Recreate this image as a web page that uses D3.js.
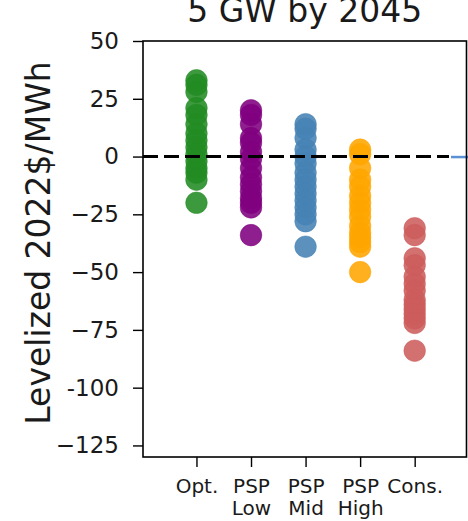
<!DOCTYPE html>
<html>
<head>
<meta charset="utf-8">
<script src="https://cdn.jsdelivr.net/npm/d3@7"></script>
<style>
  html, body { margin: 0; padding: 0; background: #fff; }
  svg { display: block; font-family: "DejaVu Sans", sans-serif; }
</style>
</head>
<body>
<svg id="chart" width="468" height="521"></svg>
<script>
// categories (two-line tick labels)
const categories = ["Opt.", "PSP Low", "PSP Mid", "PSP High", "Cons."];
const catLines = [["Opt."], ["PSP", "Low"], ["PSP", "Mid"], ["PSP", "High"], ["Cons."]];
const catColors = ["#228B22", "#800080", "#4682B4", "#FFA500", "#CD5C5C"];

// values per scenario, $/MWh
const optVals = [33, 31, 28, 21, 18, 14, 10, 7, 4, 1, -2, -5, -7, -10, -20];
const pspLowVals = [20, 18, 14, 8, 6, 2, -1, -5, -9, -12, -15, -18, -20, -22, -34];
const pspMidVals = [14, 12, 8, 3, 0, -3, -7, -10, -13, -16, -19, -22, -25, -28, -39];
const pspHighVals = [3, 1, -5, -10, -13, -17, -20, -23, -26, -30, -33, -35, -37, -39, -50];
const consVals = [-31, -34, -44, -47, -52, -55, -58, -62, -64, -66, -68, -70, -72, -84];
const seriesVals = [optVals, pspLowVals, pspMidVals, pspHighVals, consVals];

const yTicks = [50, 25, 0, -25, -50, -75, -100, -125];
const yTickLabels = ["50", "25", "0", "\u221225", "\u221250", "\u221275", "-100", "\u2212125"];

const svg = d3.select("#chart");
const plotL = 143, plotR = 466.5, plotT = 41, plotB = 457;

const x = d3.scaleLinear().domain([-0.98, 4.95]).range([plotL, plotR]);
const y = d3.scaleLinear().domain([50, -130]).range([plotT, plotB]);

// title (its top is cut off by the page edge, as in the source)
svg.append("text")
  .attr("x", (plotL + plotR) / 2).attr("y", 22)
  .attr("text-anchor", "middle")
  .attr("font-size", 33).attr("fill", "#1a1a1a")
  .text("5 GW by 2045");

// points
const pts = [];
seriesVals.forEach((vals, i) => vals.forEach(v => pts.push({ i, v })));
svg.append("g").selectAll("circle")
  .data(pts).join("circle")
  .attr("cx", d => x(d.i))
  .attr("cy", d => y(d.v))
  .attr("r", 10.8)
  .attr("fill", d => catColors[d.i])
  .attr("fill-opacity", 0.88)
  .attr("stroke", d => catColors[d.i])
  .attr("stroke-opacity", 0.5)
  .attr("stroke-width", 1);

// zero reference line
svg.append("line")
  .attr("x1", plotL).attr("x2", 449)
  .attr("y1", y(0)).attr("y2", y(0))
  .attr("stroke", "#000").attr("stroke-width", 3)
  .attr("stroke-dasharray", "15,6");

// clipped blue segment at right edge
svg.append("line")
  .attr("x1", 451).attr("x2", 468)
  .attr("y1", y(0) + 0.5).attr("y2", y(0) + 0.5)
  .attr("stroke", "#5b8fd6").attr("stroke-width", 2.5);

// y axis
const yAxis = d3.axisLeft(y)
  .tickValues(yTicks)
  .tickFormat((d, k) => yTickLabels[k])
  .tickSize(10).tickPadding(14);
const gy = svg.append("g").attr("transform", `translate(${plotL},0)`).call(yAxis);
gy.select(".domain").remove();
gy.selectAll(".tick line").attr("stroke", "#000").attr("stroke-width", 1.4);
gy.selectAll(".tick text")
  .attr("font-size", 23).attr("fill", "#1a1a1a")
  .attr("font-family", "DejaVu Sans, sans-serif");

// x axis
const xAxis = d3.axisBottom(x)
  .tickValues(d3.range(categories.length))
  .tickFormat("")
  .tickSize(10);
const gx = svg.append("g").attr("transform", `translate(0,${plotB})`).call(xAxis);
gx.select(".domain").remove();
gx.selectAll(".tick line").attr("stroke", "#000").attr("stroke-width", 1.4);
gx.selectAll(".tick").each(function (d) {
  const t = d3.select(this).append("text")
    .attr("text-anchor", "middle")
    .attr("font-size", 20).attr("fill", "#1a1a1a")
    .attr("font-family", "DejaVu Sans, sans-serif");
  catLines[d].forEach((s, k) => {
    t.append("tspan").attr("x", 0).attr("y", 36 + k * 22).text(s);
  });
});

// frame
svg.append("rect")
  .attr("x", plotL).attr("y", plotT)
  .attr("width", plotR - plotL).attr("height", plotB - plotT)
  .attr("fill", "none").attr("stroke", "#000").attr("stroke-width", 1.6);

// y label
svg.append("text")
  .attr("transform", `translate(50,243) rotate(-90)`)
  .attr("text-anchor", "middle")
  .attr("font-size", 33).attr("fill", "#1a1a1a")
  .text("Levelized 2022$/MWh");
</script>
</body>
</html>
